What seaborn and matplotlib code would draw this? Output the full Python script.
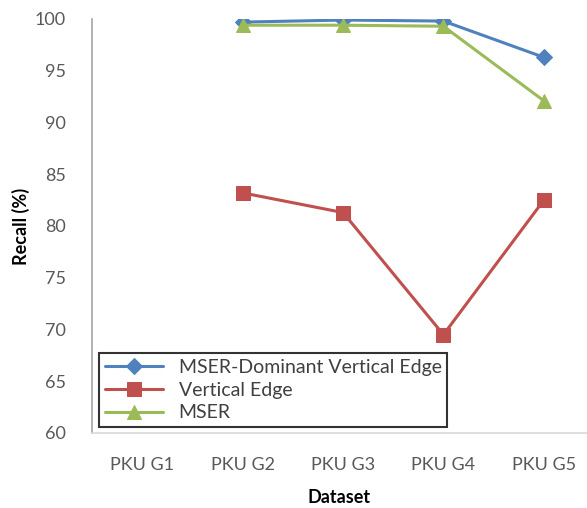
import numpy as np
import pandas as pd
import matplotlib
matplotlib.use("Agg")
import matplotlib.pyplot as plt
import seaborn as sns

datasets = ["PKU G1", "PKU G2", "PKU G3", "PKU G4", "PKU G5"]
mser_dve = [np.nan, 99.7, 99.9, 99.8, 96.3]
vertical_edge = [np.nan, 83.2, 81.3, 69.5, 82.5]
mser = [np.nan, 99.4, 99.4, 99.3, 92.1]
methods = ["MSER-Dominant Vertical Edge", "Vertical Edge", "MSER"]
colors = ["#4F81BD", "#C0504D", "#9BBB59"]
markers = ["D", "s", "^"]
msizes = [8, 10, 10]

sns.set_theme(style="white")
plt.rcParams["font.family"] = ["Lato", "DejaVu Sans"]

df = pd.DataFrame({
    "Dataset": datasets * 3,
    "Recall": mser_dve + vertical_edge + mser,
    "Method": sum([[m] * len(datasets) for m in methods], []),
})

fig = plt.figure(figsize=(5.87, 5.08), dpi=100)
ax = fig.add_axes([92 / 587, 1 - 433 / 508, (587 - 92) / 587, (433 - 19) / 508])

for name, col, mk, ms in zip(methods, colors, markers, msizes):
    sub = df[df["Method"] == name].copy()
    sub["x"] = [datasets.index(d) for d in sub["Dataset"]]
    sns.lineplot(data=sub, x="x", y="Recall", ax=ax, color=col, marker=mk,
                 markersize=ms, markeredgecolor=col, linewidth=2.2,
                 label=name, legend=False)

ax.set_xlim(-0.5, 4.43)
ax.set_ylim(60, 100)
ax.set_yticks(np.arange(60, 101, 5))
ax.set_xticks(range(len(datasets)))
ax.set_xticklabels(datasets)
ax.tick_params(axis="both", colors="#595959", labelsize=13, length=0)
ax.tick_params(axis="x", pad=17)
ax.tick_params(axis="y", pad=19)
for s in ["top", "right"]:
    ax.spines[s].set_visible(False)
ax.spines["left"].set_color("#A6A6A6")
ax.spines["bottom"].set_color("#D9D9D9")
ax.spines["left"].set_linewidth(1.2)
ax.spines["bottom"].set_linewidth(1.2)

ax.set_xlabel("Dataset", fontsize=13, fontweight="bold", color="black", labelpad=12)
ax.set_ylabel("Recall (%)", fontsize=13, fontweight="bold", color="black", labelpad=3)

leg = ax.legend(loc="lower left", bbox_to_anchor=(0.014, 0.014), frameon=True,
                fancybox=False, edgecolor="black", fontsize=14,
                handlelength=3.0, borderpad=0.3, labelspacing=0.3,
                handletextpad=0.8, borderaxespad=0, labelcolor="#404040")
leg.get_frame().set_linewidth(1.5)

fig.savefig("out.png", dpi=100)
